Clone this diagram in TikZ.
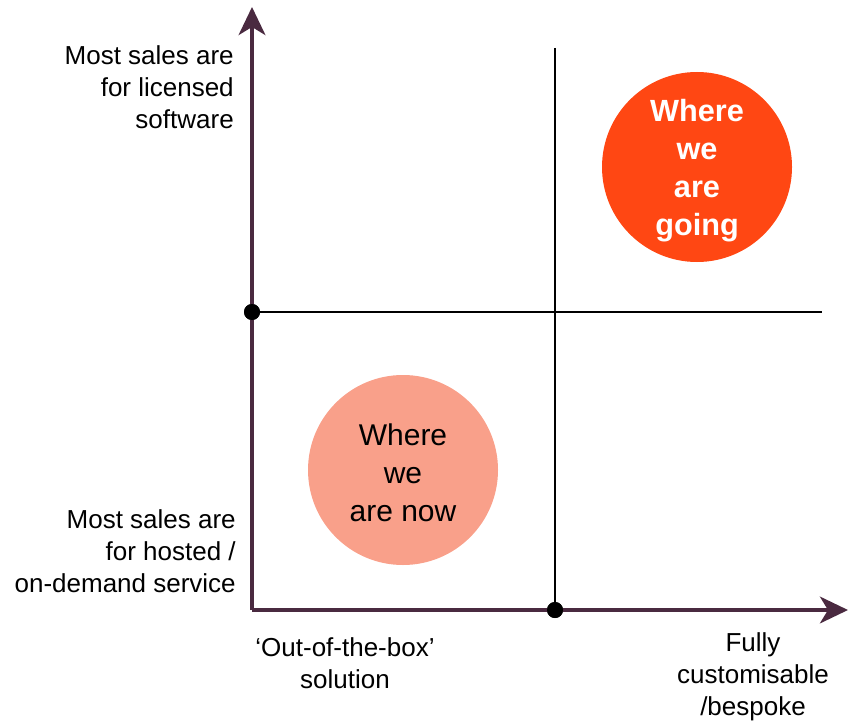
\documentclass[tikz,border=0pt]{standalone}
\usepackage{fontspec}
\setmainfont{Liberation Sans}
\usetikzlibrary{arrows.meta}
\definecolor{axisplum}{HTML}{4A2A40}
\definecolor{nowfill}{HTML}{F9A08A}
\definecolor{goingfill}{HTML}{FF4713}
\begin{document}
\begin{tikzpicture}[x=0.75pt,y=-0.75pt,
  axis/.style={draw=axisplum,line width=3pt,-{Stealth[length=21pt,width=20pt,inset=6pt]}},
  divider/.style={draw=black,line width=1.5pt},
  pin/.style={circle,fill=black,inner sep=0pt,minimum size=12pt},
  bubble/.style={circle,inner sep=0pt,minimum size=142.5pt},
  bubbletext/.style={inner sep=0pt,align=center,font=\fontsize{22.5}{28.5}\selectfont},
  label/.style={inner sep=0pt,font=\fontsize{19.5}{24}\selectfont}]
  \useasboundingbox (0,0) rectangle (848,720);

  % axes origin and ends
  \coordinate (origin) at (252,610);
  \coordinate (ytip) at (252,7);
  \coordinate (xtip) at (848,610);
  % quadrant dividers
  \coordinate (vtop) at (555,48);
  \coordinate (hright) at (822,312);

  \node[pin] (ymid) at (252,312) {};
  \node[pin] (xmid) at (555,610) {};

  \draw[divider] (vtop) -- (xmid.center);
  \draw[divider] (ymid.center) -- (hright);

  \draw[axis] (origin) -- (ytip);
  \draw[axis] (origin) -- (xtip);
  \node[pin] at (ymid) {};
  \node[pin] at (xmid) {};

  % positions
  \node[bubble,fill=nowfill] (now) at (403,470) {};
  \node[bubbletext] (nowtext) at (403,473) {Where\\we\\are now};
  \node[bubble,fill=goingfill] (going) at (697,167) {};
  \node[bubbletext,text=white,font=\fontsize{23}{28.5}\selectfont\bfseries]
    (goingtext) at (697,171) {Where\\we\\are\\going};

  % axis labels
  \node[label,align=right,anchor=east] (ytop) at (234,87)
    {Most sales are\\for licensed\\software};
  \node[label,align=right,anchor=east] (ybot) at (236,551)
    {Most sales are\\for hosted /\\on-demand service};
  \node[label,align=center] (xleft) at (345,663)
    {‘Out-of-the-box’\\solution};
  \node[label,align=center] (xright) at (753,677)
    {Fully\\customisable\\/bespoke};
\end{tikzpicture}
\end{document}
